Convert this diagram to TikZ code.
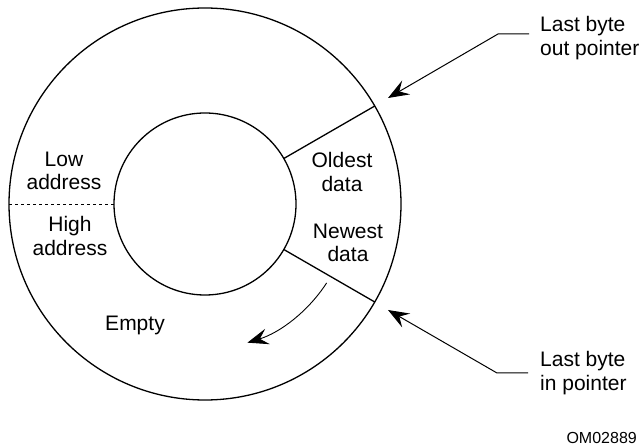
\documentclass[tikz,border=0pt]{standalone}
\usepackage{fontspec}
\setmainfont{Liberation Sans}
\usetikzlibrary{arrows.meta,calc}
\begin{document}
\begin{tikzpicture}[x=1pt,y=1pt,
  ring/.style={circle,draw,line width=1.3pt,inner sep=0pt,outer sep=0pt},
  divider/.style={line width=1.3pt},
  lbl/.style={align=center,inner sep=0pt,font=\fontsize{21pt}{23.5pt}\selectfont},
  ptrlbl/.style={align=left,anchor=west,inner sep=0pt,font=\fontsize{21pt}{23.5pt}\selectfont},
  head/.style={-{Stealth[length=21pt,width=16pt,inset=8pt]}},
  ptr/.style={head,line width=1pt}]
\useasboundingbox (0,0) rectangle (642,447);
\node[ring,minimum size=392pt] (outer) at (205,243) {};
\node[ring,minimum size=182pt] (inner) at (205,243) {};
\draw[divider] (inner.30) -- (outer.30);
\draw[divider] (inner.-30) -- (outer.-30);
\draw[dash pattern=on 3pt off 3pt, line width=0.8pt] (outer.180) -- (inner.180);
\node[lbl] (low) at (64,276) {Low\\address};
\node[lbl] (high) at (70,211) {High\\address};
\node[lbl] (oldest) at (342,275) {Oldest\\data};
\node[lbl] (newest) at (348,204) {Newest\\data};
\node[lbl] (empty) at (135,122) {Empty};
\coordinate (arcstart) at ($(outer.center)+(-33:145pt)$);
\draw[head,line width=0.9pt] (arcstart) arc[start angle=-33,end angle=-73,radius=145pt];
\node[ptrlbl] (outlbl) at (540,409) {Last byte\\out pointer};
\node[ptrlbl] (inlbl) at (540,74) {Last byte\\in pointer};
\coordinate (outtip) at (388,349);
\coordinate (intip) at (388,137);
\draw[ptr] ($(outlbl.west)+(-11pt,4pt)$) -- ++(-31pt,0pt) -- (outtip);
\draw[ptr] ($(inlbl.west)+(-12pt,0pt)$) -- ++(-31pt,0pt) -- (intip);
\node[inner sep=0pt,anchor=east,font=\fontsize{16pt}{18pt}\selectfont] (code) at (637,9) {OM02889};
\end{tikzpicture}
\end{document}
